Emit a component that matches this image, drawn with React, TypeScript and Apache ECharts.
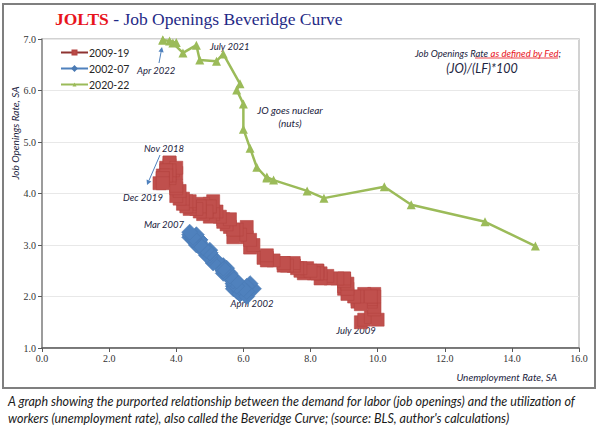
import { useEffect, useRef } from "react";
import * as echarts from "echarts";

// Unemployment rate (x) and job openings rate (y), monthly, Jul 2009 – Dec 2019
const unemp0919 = [
  9.5, 9.6, 9.8, 10.0, 9.9, 9.9,
  9.8, 9.8, 9.9, 9.9, 9.6, 9.4, 9.4, 9.5, 9.5, 9.4, 9.8, 9.3,
  9.1, 9.0, 9.0, 9.1, 9.0, 9.1, 9.0, 9.0, 9.0, 8.8, 8.6, 8.5,
  8.3, 8.3, 8.2, 8.2, 8.2, 8.2, 8.2, 8.1, 7.8, 7.8, 7.7, 7.9,
  8.0, 7.7, 7.5, 7.6, 7.5, 7.5, 7.3, 7.2, 7.2, 7.2, 6.9, 6.7,
  6.6, 6.7, 6.7, 6.2, 6.3, 6.1, 6.2, 6.1, 5.9, 5.7, 5.8, 5.6,
  5.7, 5.5, 5.4, 5.4, 5.6, 5.3, 5.2, 5.1, 5.0, 5.0, 5.1, 5.0,
  4.8, 4.9, 5.0, 5.1, 4.8, 4.9, 4.8, 4.9, 5.0, 4.9, 4.7, 4.7,
  4.7, 4.6, 4.4, 4.4, 4.4, 4.3, 4.3, 4.4, 4.3, 4.2, 4.2, 4.1,
  4.0, 4.1, 4.0, 4.0, 3.8, 4.0, 3.8, 3.8, 3.7, 3.8, 3.8, 3.9,
  4.0, 3.8, 3.8, 3.7, 3.6, 3.6, 3.7, 3.6, 3.5, 3.6, 3.6, 3.6,
];
const openings0919 = [
  1.5, 1.55, 1.6, 1.55, 1.75, 1.8,
  1.9, 1.95, 2.05, 2.0, 2.05, 1.95, 1.9, 1.9, 1.85, 2.0, 2.0, 2.0,
  2.05, 2.15, 2.2, 2.15, 2.3, 2.25, 2.35, 2.3, 2.35, 2.35, 2.35, 2.4,
  2.35, 2.45, 2.5, 2.45, 2.5, 2.5, 2.45, 2.45, 2.5, 2.45, 2.5, 2.55,
  2.5, 2.55, 2.6, 2.55, 2.6, 2.65, 2.6, 2.65, 2.6, 2.65, 2.7, 2.75,
  2.75, 2.7, 2.8, 2.95, 3.0, 3.15, 3.1, 3.35, 3.2, 3.15, 3.3, 3.35,
  3.3, 3.4, 3.5, 3.45, 3.5, 3.55, 3.65, 3.6, 3.55, 3.7, 3.65, 3.75,
  3.7, 3.65, 3.8, 3.85, 3.6, 3.75, 3.8, 3.7, 3.75, 3.65, 3.7, 3.65,
  3.75, 3.7, 3.7, 3.75, 3.8, 3.8, 3.75, 3.85, 3.85, 3.8, 3.9, 3.9,
  3.95, 4.05, 4.1, 4.15, 4.3, 4.4, 4.4, 4.55, 4.5, 4.6, 4.6, 4.45,
  4.5, 4.35, 4.45, 4.45, 4.35, 4.3, 4.35, 4.3, 4.2, 4.25, 4.3, 4.2,
];

// Apr 2002 – Mar 2007
const unemp0207 = [
  5.9, 5.8, 5.8, 5.8, 5.7, 5.7, 5.7, 5.9, 6.0,
  5.8, 5.9, 5.9, 6.0, 6.1, 6.3, 6.2, 6.1, 6.1, 6.0, 5.8, 5.7,
  5.7, 5.6, 5.8, 5.6, 5.6, 5.6, 5.5, 5.4, 5.4, 5.5, 5.4, 5.4,
  5.3, 5.4, 5.2, 5.2, 5.1, 5.0, 5.0, 4.9, 5.0, 5.0, 5.0, 4.9,
  4.7, 4.8, 4.7, 4.7, 4.6, 4.6, 4.7, 4.7, 4.5, 4.4, 4.5, 4.4,
  4.6, 4.5, 4.4,
];
const openings0207 = [
  2.05, 2.15, 2.2, 2.1, 2.2, 2.25, 2.15, 2.15, 2.1,
  2.2, 2.1, 2.05, 2.1, 2.0, 2.15, 2.25, 2.2, 2.1, 2.15, 2.2, 2.25,
  2.3, 2.35, 2.3, 2.4, 2.45, 2.4, 2.5, 2.45, 2.5, 2.55, 2.5, 2.6,
  2.6, 2.55, 2.65, 2.7, 2.65, 2.75, 2.8, 2.8, 2.85, 2.9, 2.85, 2.9,
  2.95, 2.95, 3.05, 3.1, 3.05, 3.0, 3.1, 3.0, 3.1, 3.15, 3.1, 3.2,
  3.2, 3.15, 3.25,
];

// Apr 2020 – Apr 2022
const unemp2022 = [
  14.7, 13.2, 11.0, 10.2, 8.4, 7.9, 6.9, 6.7, 6.7, 6.4, 6.2, 6.0, 6.0,
  5.8, 5.9, 5.4, 5.2, 4.7, 4.6, 4.2, 3.9, 4.0, 3.8, 3.6, 3.6,
];
const openings2022 = [
  2.98, 3.45, 3.78, 4.13, 3.91, 4.05, 4.26, 4.32, 4.3, 4.51, 4.88, 5.25, 5.74,
  6.01, 6.13, 6.71, 6.57, 6.59, 6.88, 6.73, 6.92, 6.93, 6.96, 6.98, 6.98,
];

const seriesNames = ["2009-19", "2002-07", "2020-22"];
const xTicks = { min: 0, max: 16, step: 2 };
const yTicks = { min: 1, max: 7, step: 1 };

const zip = (xs: number[], ys: number[]) => xs.map((x, i) => [x, ys[i]]);

const NOTE = "#1c2440";
const noteFont = "Lato";

function note(text: string, x: number, y: number, align = "left", size = 9.5) {
  return {
    type: "text",
    x,
    y,
    silent: true,
    style: {
      text,
      fill: NOTE,
      font: `italic ${size}px ${noteFont}`,
      align,
      verticalAlign: "middle",
    },
  };
}

function arrow(x1: number, y1: number, x2: number, y2: number, color: string) {
  const dx = x2 - x1;
  const dy = y2 - y1;
  const len = Math.hypot(dx, dy);
  const ux = dx / len;
  const uy = dy / len;
  const hl = 5;
  const hw = 2.6;
  const bx = x2 - ux * hl;
  const by = y2 - uy * hl;
  return {
    type: "group",
    silent: true,
    children: [
      {
        type: "line",
        shape: { x1, y1, x2: bx, y2: by },
        style: { stroke: color, lineWidth: 1 },
      },
      {
        type: "polygon",
        shape: {
          points: [
            [x2, y2],
            [bx - uy * hw, by + ux * hw],
            [bx + uy * hw, by - ux * hw],
          ],
        },
        style: { fill: color },
      },
    ],
  };
}

export default function App() {
  const ref = useRef<HTMLDivElement>(null);

  useEffect(() => {
    if (!ref.current) return;
    const chart = echarts.init(ref.current, null, { renderer: "svg" });

    const option = {
      animation: false,
      backgroundColor: "#ffffff",
      grid: {
        left: 42,
        top: 39,
        width: 537,
        height: 309,
        show: true,
        borderColor: "#c4c4c4",
        borderWidth: 1.5,
        backgroundColor: "transparent",
      },
      legend: {
        orient: "vertical",
        left: 55,
        top: 42,
        itemWidth: 27,
        itemHeight: 5,
        itemGap: 5,
        data: seriesNames,
        textStyle: { fontFamily: "Lato", fontSize: 10.5, color: "#262626", padding: [0, 0, 0, -4] },
      },
      xAxis: {
        type: "value",
        min: xTicks.min,
        max: xTicks.max,
        interval: xTicks.step,
        axisLine: { show: true, onZero: false, lineStyle: { color: "#595959", width: 1.5 } },
        axisTick: { show: true, length: 4, lineStyle: { color: "#595959" } },
        splitLine: { show: false },
        axisLabel: {
          formatter: (v: number) => v.toFixed(1),
          fontFamily: "Liberation Serif",
          fontSize: 10,
          color: "#333333",
          margin: 5,
        },
      },
      yAxis: {
        type: "value",
        min: yTicks.min,
        max: yTicks.max,
        interval: yTicks.step,
        axisLine: { show: true, lineStyle: { color: "#8a8a8a", width: 1.5 } },
        axisTick: { show: true, length: 4, lineStyle: { color: "#595959" } },
        splitLine: { show: true, lineStyle: { color: "#e8e8e8", width: 1 } },
        axisLabel: {
          formatter: (v: number) => v.toFixed(1),
          fontFamily: "Liberation Serif",
          fontSize: 10,
          color: "#333333",
          margin: 6,
        },
      },
      series: [
        {
          name: seriesNames[0],
          type: "line",
          data: zip(unemp0919, openings0919),
          symbol: "rect",
          symbolSize: 13,
          lineStyle: { color: "#8e3331", width: 3.5 },
          itemStyle: { color: "#c0504d", borderColor: "#b54542", borderWidth: 0.6 },
          z: 3,
        },
        {
          name: seriesNames[1],
          type: "line",
          data: zip(unemp0207, openings0207),
          symbol: "diamond",
          symbolSize: 16,
          lineStyle: { color: "#4f81bd", width: 3.5 },
          itemStyle: { color: "#4f81bd", borderColor: "#4a7ab3", borderWidth: 0.6 },
          z: 2,
        },
        {
          name: seriesNames[2],
          type: "line",
          data: zip(unemp2022, openings2022),
          symbol: "triangle",
          symbolSize: 9,
          lineStyle: { color: "#9bbb59", width: 2.5 },
          itemStyle: { color: "#9bbb59" },
          z: 4,
        },
      ],
      graphic: [
        // outer frame
        {
          type: "rect",
          shape: { x: 3, y: 4, width: 592, height: 384 },
          style: { fill: "none", stroke: "#7f7f7f", lineWidth: 2 },
          silent: true,
          z: -1,
        },
        {
          type: "text",
          x: 55,
          y: 19,
          silent: true,
          style: {
            text: "{a|JOLTS}{b| - Job Openings Beveridge Curve}",
            verticalAlign: "middle",
            rich: {
              a: { fontFamily: "Liberation Serif", fontSize: 17.5, fontWeight: "bold", fill: "#e8141c" },
              b: { fontFamily: "Liberation Serif", fontSize: 17.5, fill: "#1f2a86" },
            },
          },
        },
        // axis titles
        {
          type: "text",
          x: 15,
          y: 133,
          rotation: Math.PI / 2,
          silent: true,
          style: {
            text: "Job Openings Rate, SA",
            fill: NOTE,
            font: `italic 10px ${noteFont}`,
            align: "center",
            verticalAlign: "middle",
          },
        },
        note("Unemployment Rate, SA", 557, 377, "right", 10),
        // top-right definition
        {
          type: "text",
          x: 561,
          y: 53,
          silent: true,
          style: {
            text: "{n|Job Openings Rate }{r|as defined by Fed}{n|;}",
            align: "right",
            verticalAlign: "middle",
            rich: {
              n: { fontFamily: noteFont, fontStyle: "italic", fontSize: 9.5, fill: NOTE },
              r: { fontFamily: noteFont, fontStyle: "italic", fontSize: 9.5, fill: "#e8141c" },
            },
          },
        },
        {
          type: "line",
          shape: { x1: 475, y1: 58, x2: 558, y2: 58 },
          style: { stroke: "#e8141c", lineWidth: 0.8 },
          silent: true,
        },
        note("(JO)/(LF)*100", 482, 68, "center", 12.5),
        // event labels
        note("Apr 2022", 137, 70),
        arrow(159, 63, 162, 47, "#4f81bd"),
        note("July 2021", 210, 46),
        note("JO goes nuclear", 290, 110, "center", 10),
        note("(nuts)", 290, 123, "center", 10),
        note("Nov 2018", 164, 148, "center"),
        arrow(160, 155, 147, 185, "#4f81bd"),
        note("Dec 2019", 143, 197, "center"),
        note("Mar 2007", 164, 224, "center"),
        note("April 2002", 252, 303, "center"),
        note("July 2009", 356, 330, "center"),
        // caption
        {
          type: "text",
          x: 8,
          y: 401,
          silent: true,
          style: {
            text:
              "A graph showing the purported relationship between the demand for labor (job openings) and the utilization of",
            fill: "#1a1a1a",
            font: "italic 12.5px Lato",
            verticalAlign: "middle",
          },
        },
        {
          type: "text",
          x: 8,
          y: 418,
          silent: true,
          style: {
            text: "workers (unemployment rate), also called the Beveridge Curve; (source: BLS, author's calculations)",
            fill: "#1a1a1a",
            font: "italic 12.5px Lato",
            verticalAlign: "middle",
          },
        },
      ],
    };

    chart.setOption(option as any);
    return () => chart.dispose();
  }, []);

  return (
    <div
      ref={ref}
      style={{ position: "absolute", left: 0, top: 0, width: 600, height: 426, background: "#fff" }}
    />
  );
}
